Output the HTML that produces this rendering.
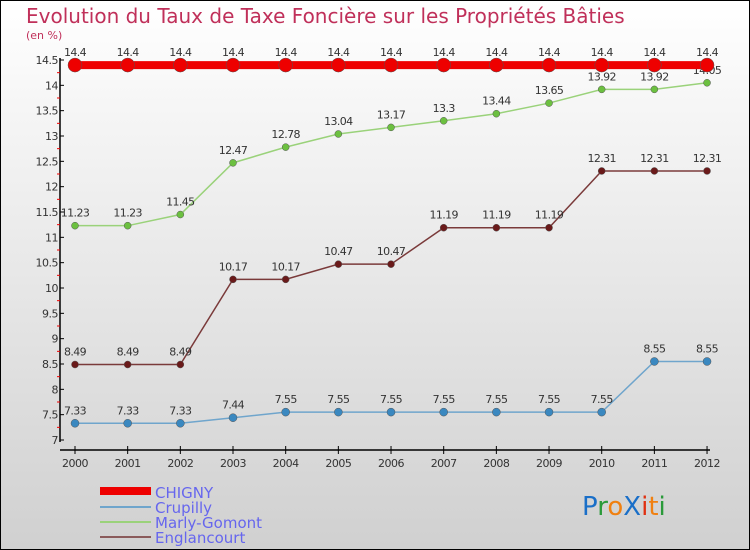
<!DOCTYPE html>
<html><head><meta charset="utf-8"><style>
body{margin:0}
svg{display:block;font-family:"DejaVu Sans","Liberation Sans",sans-serif}
</style></head><body>
<svg id="c" width="750" height="550" viewBox="0 0 750 550">
<defs><linearGradient id="bg" x1="0" y1="0" x2="0" y2="1"><stop offset="0" stop-color="#ffffff"/><stop offset="1" stop-color="#d0d0d0"/></linearGradient></defs>
<rect x="0.5" y="0.5" width="749" height="549" fill="url(#bg)" stroke="#000"/>
<text x="26" y="23" font-size="20" fill="#c0305a">Evolution du Taux de Taxe Foncière sur les Propriétés Bâties</text>
<text x="26" y="39" font-size="11" fill="#c0305a">(en %)</text>
<g id="axes"></g><g id="series"></g>
<g>
<rect x="100" y="487" width="51" height="8" fill="#e00"/>
<text x="155" y="498" font-size="15" fill="#6666ee">CHIGNY</text>
<rect x="100" y="506" width="51" height="2" fill="#6fa5cc"/>
<text x="155" y="513" font-size="15" fill="#6666ee">Crupilly</text>
<rect x="100" y="521" width="51" height="2" fill="#9ad27a"/>
<text x="155" y="528" font-size="15" fill="#6666ee">Marly-Gomont</text>
<rect x="100" y="536" width="51" height="2" fill="#8a5a5a"/>
<text x="155" y="543" font-size="15" fill="#6666ee">Englancourt</text>
</g>
<g font-size="26" font-family="'DejaVu Sans',sans-serif">
<text x="582" y="515"><tspan fill="#1a6fc8">P</tspan><tspan fill="#2a9a3a">r</tspan><tspan fill="#f08010">o</tspan><tspan fill="#1a6fc8">X</tspan><tspan fill="#e03010">i</tspan><tspan fill="#f08010">t</tspan><tspan fill="#2a9a3a">i</tspan></text>
</g>
</svg>
<script>
const years=[2000,2001,2002,2003,2004,2005,2006,2007,2008,2009,2010,2011,2012];
const chigny=[14.4,14.4,14.4,14.4,14.4,14.4,14.4,14.4,14.4,14.4,14.4,14.4,14.4];
const crupilly=[7.33,7.33,7.33,7.44,7.55,7.55,7.55,7.55,7.55,7.55,7.55,8.55,8.55];
const marly=[11.23,11.23,11.45,12.47,12.78,13.04,13.17,13.3,13.44,13.65,13.92,13.92,14.05];
const englancourt=[8.49,8.49,8.49,10.17,10.17,10.47,10.47,11.19,11.19,11.19,12.31,12.31,12.31];
const yTicks=[7,7.5,8,8.5,9,9.5,10,10.5,11,11.5,12,12.5,13,13.5,14,14.5];
const NS='http://www.w3.org/2000/svg';
const X=i=>75+i*52.67;
const Y=v=>440-(v-7)*50.667;
function mk(t,a,p){const e=document.createElementNS(NS,t);for(const k in a)e.setAttribute(k,a[k]);p.appendChild(e);return e;}
const ax=document.getElementById('axes');
let yl=mk('line',{x1:60,y1:58,x2:60,y2:442,stroke:'#000','stroke-width':1.5},ax);


let xl=mk('line',{x1:60,y1:450,x2:710,y2:450,stroke:'#000','stroke-width':1.5},ax);


yTicks.forEach((v,i)=>{
 mk('line',{x1:60,y1:Y(v),x2:64,y2:Y(v),stroke:'#000'},ax);
 if(i<yTicks.length-1)mk('line',{x1:57,y1:Y(v+0.25),x2:60,y2:Y(v+0.25),stroke:'#e00'},ax);
 const t=mk('text',{x:58,y:Y(v)+4,'font-size':11,'text-anchor':'end',fill:'#333','letter-spacing':'-0.5'},ax);
 t.textContent=String(v);
 
 
});
years.forEach((y,i)=>{
 mk('line',{x1:X(i),y1:446,x2:X(i),y2:454,stroke:'#000'},ax);
 const t=mk('text',{x:X(i),y:467,'font-size':11,'text-anchor':'middle',fill:'#333','letter-spacing':'-0.5'},ax);
 t.textContent=y;
 
 
});
const sg=document.getElementById('series');
function series(vals,color,w,r,dot,name){
 const g=mk('g',{},sg);
 
 
 const pl=mk('polyline',{points:vals.map((v,i)=>X(i)+','+Y(v)).join(' '),fill:'none',stroke:color,'stroke-width':w},g);
 vals.forEach((v,i)=>{
  const c=mk('circle',{cx:X(i),cy:Y(v),r:r,fill:dot,stroke:'#555','stroke-width':0.5},g);
  
  
  const t=mk('text',{x:X(i),y:Y(v)-9,'font-size':11,'text-anchor':'middle',fill:'#333','letter-spacing':'-0.6'},g);
  t.textContent=String(v);
  
  
 });
}
series(englancourt,'#7a3a3a',1.5,3.5,'#6a1a1a','englancourt-series');
series(crupilly,'#6fa5cc',1.5,4,'#3a88c0','crupilly-series');
series(marly,'#9ad27a',1.5,3.5,'#6cc040','marly-gomont-series');
series(chigny,'#e00',8,7,'#e00','chigny-series');
</script>
</body></html>
